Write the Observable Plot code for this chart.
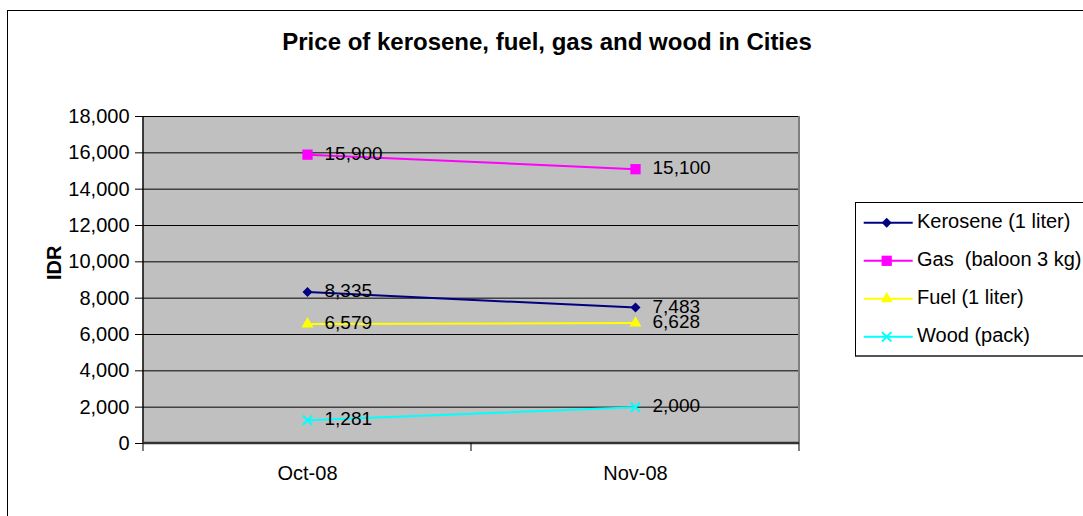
<!DOCTYPE html>
<html><head><meta charset="utf-8">
<script src="https://cdn.jsdelivr.net/npm/d3@7"></script>
<script src="https://cdn.jsdelivr.net/npm/@observablehq/plot@0.6"></script>
<style>
body{margin:0;overflow:hidden;background:#fff;font-family:"Liberation Sans",Arial,sans-serif;}
#wrap{position:relative;width:1083px;height:516px;overflow:hidden;}
#border{position:absolute;left:7px;top:10px;width:1200px;height:700px;border-left:1px solid #000;border-top:1px solid #000;}
#title{position:absolute;left:247px;width:600px;top:30px;text-align:center;font-size:24px;line-height:24px;font-weight:bold;color:#000;white-space:nowrap;}
#chart{position:absolute;left:0;top:0;}
#legend{position:absolute;left:855px;top:202px;width:260px;height:152px;border:1px solid #000;border-bottom:2px solid #555;background:#fff;}
.lrow{position:absolute;left:0;height:24px;line-height:24px;font-size:20px;white-space:pre;color:#000;}
.lrow svg{position:absolute;left:0;top:0;}
.lrow span{position:absolute;left:61px;top:0;}
</style></head><body>
<div id="wrap">
  <div id="border"></div>
  <div id="title">Price of kerosene, fuel, gas and wood in Cities</div>
  <div id="chart"></div>
  <div id="legend"></div>
</div>
<script>
const months = ["Oct-08", "Nov-08"];
const seriesNames = ["Kerosene (1 liter)", "Gas  (baloon 3 kg)", "Fuel (1 liter)", "Wood (pack)"];
const kerosene = [8335, 7483];
const gas = [15900, 15100];
const fuel = [6579, 6628];
const wood = [1281, 2000];
const yTicks = [0, 2000, 4000, 6000, 8000, 10000, 12000, 14000, 16000, 18000];
const yAxisLabel = "IDR";
const colors = ["#000080", "#ff00ff", "#ffff00", "#00ffff"];
const symbols = ["diamond2", "square", "triangle", "times"];
const symbolR = [4.5, 5.8, 4.45, 4.35];

const valuesBySeries = [kerosene, gas, fuel, wood];
const data = seriesNames.flatMap((s, i) => months.map((m, j) => ({series: s, month: m, value: valuesBySeries[i][j]})));
const fmt = d3.format(",");
const FONT = '"Liberation Sans", Arial, sans-serif';

function frameLines(index, scales, values, dims) {
  const {width, height, marginLeft, marginRight, marginTop, marginBottom} = dims;
  const g = d3.create("svg:g");
  const left = marginLeft, right = width - marginRight, bottom = height - marginBottom;
  g.append("line").attr("x1", right).attr("x2", right).attr("y1", marginTop).attr("y2", bottom)
    .attr("stroke", "#808080").attr("stroke-width", 2);
  g.append("line").attr("x1", left).attr("x2", left).attr("y1", marginTop).attr("y2", bottom)
    .attr("stroke", "#000").attr("stroke-width", 1.5);
  g.append("line").attr("x1", left).attr("x2", right).attr("y1", bottom).attr("y2", bottom)
    .attr("stroke", "#333").attr("stroke-width", 2.5);
  const px = months.map(m => scales.x(m));
  const step = px[1] - px[0];
  const bounds = [px[0] - step / 2, ...px.map(p => p + step / 2)];
  for (const b of bounds) {
    g.append("line").attr("x1", b).attr("x2", b).attr("y1", bottom).attr("y2", bottom + 8)
      .attr("stroke", "#000").attr("stroke-width", 1);
  }
  return g.node();
}

const dotMarks = seriesNames.map((s, i) => {
  const rows = data.filter(d => d.series === s);
  if (symbols[i] === "times") {
    return Plot.dot(rows, {x: "month", y: "value", symbol: () => symbols[i], r: symbolR[i], stroke: colors[i], strokeWidth: 2, fill: "none"});
  }
  return Plot.dot(rows, {x: "month", y: "value", symbol: () => symbols[i], r: symbolR[i], fill: colors[i], stroke: "none"});
});

const chart = Plot.plot({
  width: 1083,
  height: 516,
  marginLeft: 143,
  marginRight: 284,
  marginTop: 116,
  marginBottom: 73,
  style: {fontFamily: FONT, fontSize: "20px", color: "#000", background: "transparent", overflow: "visible"},
  x: {type: "point", domain: months, padding: 0.5},
  y: {domain: [0, 18000]},
  symbol: {domain: seriesNames, range: symbols},
  marks: [
    Plot.frame({fill: "#c0c0c0", stroke: "none"}),
    Plot.ruleY(yTicks, {stroke: "#000", strokeWidth: 1}),
    frameLines,
    Plot.axisY(yTicks, {tickFormat: fmt, tickSize: 8, tickPadding: 6, fontSize: 20, label: null, stroke: "#000"}),
    Plot.axisX({tickSize: 0, tickPadding: 22, fontSize: 20, label: null}),
    ...seriesNames.map((s, i) => Plot.line(data.filter(d => d.series === s), {x: "month", y: "value", stroke: colors[i], strokeWidth: 2})),
    ...dotMarks,
    Plot.text(data, {x: "month", y: "value", text: d => fmt(d.value), dx: 17, dy: -1, textAnchor: "start", fontSize: 19, fill: "#000"}),
    Plot.text([yAxisLabel], {frameAnchor: "left", text: d => d, dx: -89, rotate: -90, fontWeight: "bold", fontSize: 20, fill: "#000"})
  ]
});
document.getElementById("chart").appendChild(chart);

// legend
const legend = d3.select("#legend");
const rowY = [21, 59, 97, 135];
seriesNames.forEach((s, i) => {
  const row = legend.append("div").attr("class", "lrow").style("top", (rowY[i] - 1 - 13.8) + "px").style("width", "258px");
  const svg = row.append("svg").attr("width", 60).attr("height", 24);
  const cy = 13.8;
  svg.append("line").attr("x1", 7.7).attr("x2", 56.7).attr("y1", cy).attr("y2", cy).attr("stroke", colors[i]).attr("stroke-width", 2);
  const sym = {diamond2: d3.symbolDiamond2, square: d3.symbolSquare, triangle: d3.symbolTriangle, times: d3.symbolTimes}[symbols[i]];
  const p = svg.append("path").attr("transform", `translate(30.7,${cy})`)
    .attr("d", d3.symbol(sym, symbolR[i] * symbolR[i] * Math.PI)());
  if (symbols[i] === "times") p.attr("fill", "none").attr("stroke", colors[i]).attr("stroke-width", 2);
  else p.attr("fill", colors[i]);
  row.append("span").text(s);
});
</script>
</body></html>
